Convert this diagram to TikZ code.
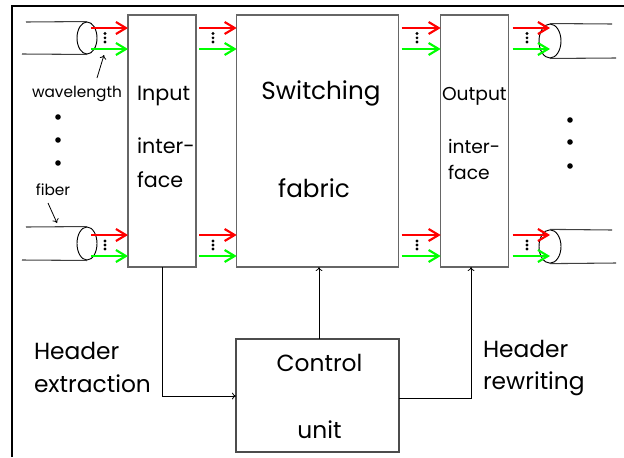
\documentclass[tikz,border=0pt]{standalone}
\usepackage{fontspec}
\setmainfont{Poppins}
\usetikzlibrary{arrows.meta,shapes.geometric}
\begin{document}
\begin{tikzpicture}[x=0.75pt,y=-0.75pt,
  blk/.style={draw=black!60,line width=1pt,inner sep=0pt,outer sep=0pt,anchor=north west},
  fib/.style={draw=black,ellipse,line width=0.7pt,inner sep=0pt,minimum width=15pt,minimum height=24pt},
  fibline/.style={draw=black!75,line width=0.8pt},
  rsig/.style={draw=red,line width=1.6pt,-{Straight Barb[length=7.5pt,width=9pt,line width=1.6pt]}},
  gsig/.style={draw=green,line width=1.6pt,-{Straight Barb[length=7.5pt,width=9pt,line width=1.6pt]}},
  conn/.style={draw=black,line width=0.6pt,-{To[length=3pt,width=5pt]}},
  txt/.style={inner sep=0pt,outer sep=0pt},
  bigdot/.style={fill=black,circle,inner sep=0pt,minimum size=4.2pt},
  smdot/.style={fill=black,circle,inner sep=0pt,minimum size=2.3pt},
  fA/.style={font=\fontsize{15.5}{18}\selectfont},
  fS/.style={font=\fontsize{18.5}{22}\selectfont},
  fO/.style={font=\fontsize{14}{17}\selectfont},
  fH/.style={font=\fontsize{17.5}{21}\selectfont},
  fs/.style={font=\fontsize{11.5}{14}\selectfont}]
\useasboundingbox (0,0) rectangle (624,457);
% frame
\draw[line width=2pt] (12,457) -- (12,6) -- (624,6);
% boxes
\node[blk,minimum width=51pt,minimum height=189pt] (in) at (128,15) {};
\node[blk,minimum width=121.5pt,minimum height=189pt] (sw) at (236.7,15) {};
\node[blk,minimum width=51pt,minimum height=189pt] (out) at (440.7,15) {};
\node[blk,draw=black!70,minimum width=122.25pt,minimum height=84.75pt] (cu) at (236,339) {};
% box texts
\node[txt,fA,anchor=base west] (tin1) at (137,100) {Input};
\node[txt,fA,anchor=base west] (tin2) at (137,153) {inter-};
\node[txt,fA,anchor=base west] (tin3) at (137,187) {face};
\node[txt,fS,anchor=base] (tsw1) at (321,99) {Switching};
\node[txt,fS,anchor=base] (tsw2) at (314,197) {fabric};
\node[txt,fO,anchor=base west] (tout1) at (442,100) {Output};
\node[txt,fO,anchor=base west] (tout2) at (448,153) {inter-};
\node[txt,fO,anchor=base west] (tout3) at (448,179) {face};
\node[txt,fH,anchor=base] (tcu1) at (319.5,371) {Control};
\node[txt,fH,anchor=base] (tcu2) at (319.5,438) {unit};
\node[txt,fH,anchor=base west] (th1) at (34,359) {Header};
\node[txt,fH,anchor=base west] (th2) at (34,392) {extraction};
\node[txt,fH,anchor=base west] (th3) at (483,357) {Header};
\node[txt,fH,anchor=base west] (th4) at (483,389) {rewriting};
\node[txt,fs,anchor=base] (twl) at (77,97) {wavelength};
\node[txt,fs,anchor=base] (tfb) at (53,195) {fiber};
% fibers
\node[fib] (fi1) at (87,38) {};
\node[fib,minimum height=24.75pt] (fi2) at (87,243.5) {};
\node[fib,minimum width=16.5pt,minimum height=25.5pt] (fo1) at (550,41) {};
\node[fib,minimum width=16.5pt,minimum height=25pt] (fo2) at (550,246.5) {};
\coordinate (fi1a) at (26,22); \coordinate (fi1b) at (22,54);
\coordinate (fi2a) at (26,227); \coordinate (fi2b) at (22,260);
\coordinate (fo1a) at (612,24); \coordinate (fo1b) at (616,58);
\coordinate (fo2a) at (612,230); \coordinate (fo2b) at (616,263);
\draw[fibline] (fi1a) -- (fi1.north); \draw[fibline] (fi1b) -- (fi1.south);
\draw[fibline] (fi2a) -- (fi2.north); \draw[fibline] (fi2b) -- (fi2.south);
\draw[fibline] (fo1.north) -- (fo1a); \draw[fibline] (fo1.south) -- (fo1b);
\draw[fibline] (fo2.north) -- (fo2a); \draw[fibline] (fo2.south) -- (fo2b);
% signal levels
\coordinate (r1) at (91,28); \coordinate (g1) at (91,49);
\coordinate (r2) at (91,235); \coordinate (g2) at (91,256);
\foreach \lv/\st in {r1/rsig,g1/gsig,r2/rsig,g2/gsig}{
  \draw[\st] (\lv) -- (in.west |- \lv);
  \draw[\st] ([xshift=2.25pt]in.east |- \lv) -- (sw.west |- \lv);
  \draw[\st] ([xshift=2.25pt]sw.east |- \lv) -- (out.west |- \lv);
  \draw[\st] ([xshift=3pt]out.east |- \lv) -- (fo1.center |- \lv);
}
% small dots
\foreach \x in {105,213,417,527}{
  \foreach \y in {33.5,37.8,42,241,245,249}{
    \node[smdot] at (\x,\y) {};
  }
}
% big dots
\foreach \p in {(58,117),(58,140),(58,163),(570,120),(570,142),(570,166)}{
  \node[bigdot] at \p {};
}
% label arrows
\coordinate (wla) at (97,78); \coordinate (wlb) at (104,55);
\draw[conn] (wla) -- (wlb);
\coordinate (fba) at (48,203); \coordinate (fbb) at (57,223);
\draw[conn] (fba) -- (fbb);
% control connectors
\draw[conn] (in.south) -- (in.south |- 0,396) -- (cu.west |- 0,396);
\draw[conn] (cu.north -| 319,0) -- (sw.south -| 319,0);
\draw[conn] (cu.east |- 0,398) -- (471,398) -- (out.south -| 471,0);
\end{tikzpicture}
\end{document}
